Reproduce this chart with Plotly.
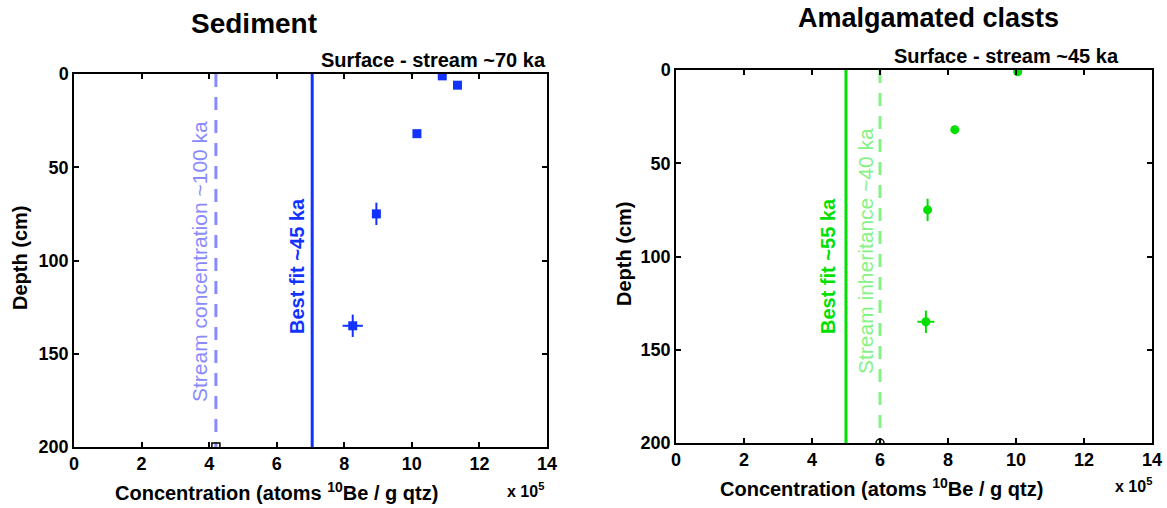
import plotly.graph_objects as go
from plotly.subplots import make_subplots

# Sediment samples (concentration x 1e5 atoms/g, depth cm)
sed_conc = [10.9, 11.35, 10.15, 8.95, 8.25]
sed_depth = [1, 6, 32, 75, 135]
sed_err_x = [0.1, 0.1, 0.1, 0.1, 0.3]
sed_err_y = [0, 0, 0, 6, 6]
sed_bestfit = 7.05
sed_stream = 4.2

# Amalgamated clasts
cl_conc = [10.05, 8.2, 7.4, 7.35]
cl_depth = [1, 32, 75, 135]
cl_err_x = [0.05, 0.05, 0.05, 0.25]
cl_err_y = [0, 0, 6, 6]
cl_bestfit = 5.0
cl_stream = 6.0

depth_range = [0, 200]
x_ticks = [0, 2, 4, 6, 8, 10, 12, 14]
y_ticks = [0, 50, 100, 150, 200]

BLUE = "#1233ff"
LBLUE = "#8a8aff"
GREEN = "#00e000"
LGREEN = "#85f285"
FONT = "Liberation Sans, Arial, sans-serif"
DASH = "13px,10px"

W, H = 1167, 508


def px(x, y):
    return x / W, 1 - y / H


fig = make_subplots(rows=1, cols=2)

# ---- Sediment panel
fig.add_trace(go.Scatter(x=[sed_stream, sed_stream], y=depth_range, mode="lines",
                         line=dict(color=LBLUE, width=3, dash=DASH)), 1, 1)
fig.add_trace(go.Scatter(x=[sed_bestfit, sed_bestfit], y=depth_range, mode="lines",
                         line=dict(color=BLUE, width=3)), 1, 1)
fig.add_trace(go.Scatter(x=sed_conc, y=sed_depth, mode="markers",
                         marker=dict(symbol="square", size=9, color=BLUE),
                         error_x=dict(array=sed_err_x, color=BLUE, thickness=2, width=0),
                         error_y=dict(array=sed_err_y, color=BLUE, thickness=2, width=0)), 1, 1)
fig.add_trace(go.Scatter(x=[10], y=[0], mode="markers",
                         marker=dict(size=3, color=GREEN)), 1, 1)
fig.add_trace(go.Scatter(x=[sed_stream], y=[200], mode="markers",
                         marker=dict(symbol="square-open", size=8, color="black",
                                     line=dict(width=1.5))), 1, 1)

# ---- Clasts panel
fig.add_trace(go.Scatter(x=[cl_stream, cl_stream], y=depth_range, mode="lines",
                         line=dict(color=LGREEN, width=3, dash=DASH)), 1, 2)
fig.add_trace(go.Scatter(x=[cl_bestfit, cl_bestfit], y=depth_range, mode="lines",
                         line=dict(color=GREEN, width=3)), 1, 2)
fig.add_trace(go.Scatter(x=cl_conc, y=cl_depth, mode="markers",
                         marker=dict(symbol="circle", size=9, color=GREEN),
                         error_x=dict(array=cl_err_x, color=GREEN, thickness=2, width=0),
                         error_y=dict(array=cl_err_y, color=GREEN, thickness=2, width=0)), 1, 2)
fig.add_trace(go.Scatter(x=[cl_stream], y=[200], mode="markers",
                         marker=dict(symbol="circle-open", size=8, color="black",
                                     line=dict(width=1.5))), 1, 2)

axis_common = dict(showline=True, linecolor="black", linewidth=1.5, mirror="ticks",
                   ticks="inside", ticklen=5, tickwidth=1.5, tickcolor="black",
                   showgrid=False, zeroline=False, automargin=False,
                   tickfont=dict(family=FONT, size=18, color="black", weight="bold"))
fig.update_xaxes(range=[0, 14], tickvals=x_ticks, **axis_common)
fig.update_yaxes(range=[200, 0], tickvals=y_ticks, **axis_common)

l0, t0 = px(74, 74)
l1, b1 = px(547, 447)
r0, t2 = px(676, 70)
r1, b2 = px(1152, 443)
fig.update_layout(
    width=W, height=H, showlegend=False,
    paper_bgcolor="white", plot_bgcolor="white",
    margin=dict(l=0, r=0, t=0, b=0),
    font=dict(family=FONT, color="black"),
    xaxis=dict(domain=[l0, l1]),
    yaxis=dict(domain=[b1, t0]),
    xaxis2=dict(domain=[r0, r1]),
    yaxis2=dict(domain=[b2, t2]),
)

ann = [
    # titles
    dict(text="Sediment", x=254, y=23, size=28, color="black", w="bold"),
    dict(text="Amalgamated clasts", x=929, y=18, size=27, color="black", w="bold"),
    # surface labels
    dict(text="Surface - stream ~70 ka", x=433, y=60, size=20, color="black", w="bold"),
    dict(text="Surface - stream ~45 ka", x=1006, y=56, size=20, color="black", w="bold"),
    # y titles
    dict(text="Depth (cm)", x=20, y=258, size=20, color="black", w="bold", a=-90),
    dict(text="Depth (cm)", x=624, y=254, size=20, color="black", w="bold", a=-90),
    # x titles
    dict(text="Concentration (atoms <sup>10</sup>Be / g qtz)", x=276, y=491, size=20,
         color="black", w="bold"),
    dict(text="Concentration (atoms <sup>10</sup>Be / g qtz)", x=881, y=487, size=20,
         color="black", w="bold"),
    dict(text="x 10<sup>5</sup>", x=525, y=490, size=16, color="black", w="bold"),
    dict(text="x 10<sup>5</sup>", x=1133, y=485, size=16, color="black", w="bold"),
    # line labels
    dict(text="Stream concentration ~100 ka", x=199, y=262, size=21, color=LBLUE,
         w="normal", a=-90),
    dict(text="Best fit ~45 ka", x=297, y=266, size=20, color=BLUE, w="bold", a=-90),
    dict(text="Best fit ~55 ka", x=828, y=266, size=20, color=GREEN, w="bold", a=-90),
    dict(text="Stream inheritance ~40 ka", x=865, y=251, size=21, color=LGREEN,
         w="normal", a=-90),
]
for a in ann:
    ax, ay = px(a["x"], a["y"])
    fig.add_annotation(text=a["text"], x=ax, y=ay,
                       xref="paper", yref="paper", showarrow=False,
                       xanchor="center", yanchor="middle", textangle=a.get("a", 0),
                       font=dict(family=FONT, size=a["size"], color=a["color"],
                                 weight=a["w"]))

# drop the default 8px page margin so the figure fills the window exactly
fig.write_html("out.html", config={"displayModeBar": False},
               post_script="document.body.style.margin='0';"
                           "document.body.style.overflow='hidden';")
